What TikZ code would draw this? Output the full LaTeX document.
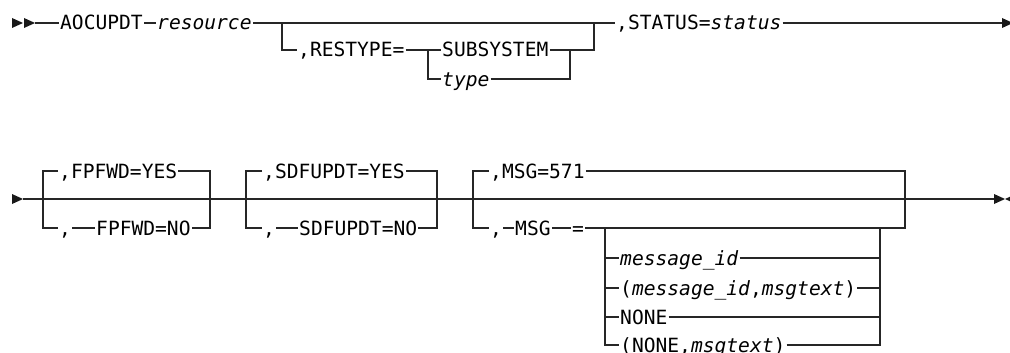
\documentclass[tikz,border=0pt]{standalone}
\usepackage{fontspec}
\setmainfont{DejaVu Sans Mono}
\tikzset{
  rail/.style={line width=1.1pt, black!85},
  tok/.style={inner xsep=1pt, inner ysep=0pt, text height=14pt, text depth=0pt,
    anchor=west, font=\fontsize{19.6}{24}\selectfont},
  headR/.pic={\fill[black!90] (0,-5) -- (11,0) -- (0,5) -- cycle;},
  headL/.pic={\fill[black!90] (11,-5) -- (0,0) -- (11,5) -- cycle;},
}
\begin{document}
\begin{tikzpicture}[x=1pt,y=-1pt]
\useasboundingbox (0,0) rectangle (1010,353);
% first line
\pic at (12,23) {headR}; \pic at (24,23) {headR};
\coordinate (s1) at (35,23);
\node[tok] (cmd) at (59,23) {AOCUPDT};
\node[tok] (res) at (156,23) {\textit{resource}};
\node[tok] (sta) at (615,23) {,STATUS=\textit{status}};
\coordinate (e1) at (1003,23);
\draw[rail] (s1) -- (cmd.west);
\draw[rail] (cmd.east) -- (res.west);
\draw[rail] (res.east) -- (sta.west);
\draw[rail] (sta.east) -- (e1);
\pic at (1002,23) {headR};
% optional RESTYPE
\coordinate (b1) at (282,23);
\coordinate (b2) at (428,50);
\coordinate (j1) at (570,50);
\coordinate (j2) at (594,23);
\node[tok] (rt) at (297,50) {,RESTYPE=};
\node[tok] (sub) at (441,50) {SUBSYSTEM};
\node[tok] (typ) at (441,79) {\textit{type}};
\draw[rail] (b1) |- (rt.west);
\draw[rail] (rt.east) -- (sub.west);
\draw[rail] (b2) |- (typ.west);
\draw[rail] (typ.east) -| (j1);
\draw[rail] (sub.east) -| (j2);
% second line
\pic at (12,199) {headR};
\coordinate (s2) at (23,199);
\coordinate (e2) at (995,199);
\coordinate (k1) at (910,199);
\coordinate (k2) at (933,199);
\draw[rail] (s2) -- (e2);
\draw[line width=2.2pt, black!85] (k1) -- (k2);
\pic at (994,199) {headR}; \pic at (1005,199) {headL};
% FPFWD and SDFUPDT
\foreach \n/\xl/\xr/\xt/\xo/\yes/\no in {1/43/210/58/95/{,FPFWD=YES}/{FPFWD=NO},
    2/246/437/262/298/{,SDFUPDT=YES}/{SDFUPDT=NO}}{
  \coordinate (L\n) at (\xl,199);
  \coordinate (R\n) at (\xr,199);
  \node[tok] (y\n) at (\xt,171) {\yes};
  \node[tok] (c\n) at (\xt,228) {,};
  \node[tok] (o\n) at (\xo,228) {\no};
  \draw[rail] (y\n.west) -| (L\n) |- (c\n.west);
  \draw[rail] (c\n.east) -- (o\n.west);
  \draw[rail] (y\n.east) -| (R\n) |- (o\n.east);
}
% MSG
\coordinate (L3) at (473,199);
\coordinate (R3) at (905,199);
\node[tok] (m571) at (489,171) {,MSG=571};
\node[tok] (c3) at (489,228) {,};
\node[tok] (msg) at (514,228) {MSG};
\node[tok] (eq) at (571,228) {=};
\draw[rail] (m571.west) -| (L3) |- (c3.west);
\draw[rail] (c3.east) -- (msg.west);
\draw[rail] (msg.east) -- (eq.west);
\draw[rail] (m571.east) -| (R3) |- (eq.east);
\coordinate (b3) at (605,228);
\coordinate (j3) at (880,228);
\foreach \i/\y/\txt in {1/258/{\textit{message\_id}},
    2/288/{(\textit{message\_id},\textit{msgtext})},
    3/317/{NONE}, 4/345/{(NONE,\textit{msgtext})}}{
  \node[tok] (v\i) at (619,\y) {\txt};
  \draw[rail] (b3) |- (v\i.west);
  \draw[rail] (v\i.east) -| (j3);
}
\end{tikzpicture}
\end{document}
